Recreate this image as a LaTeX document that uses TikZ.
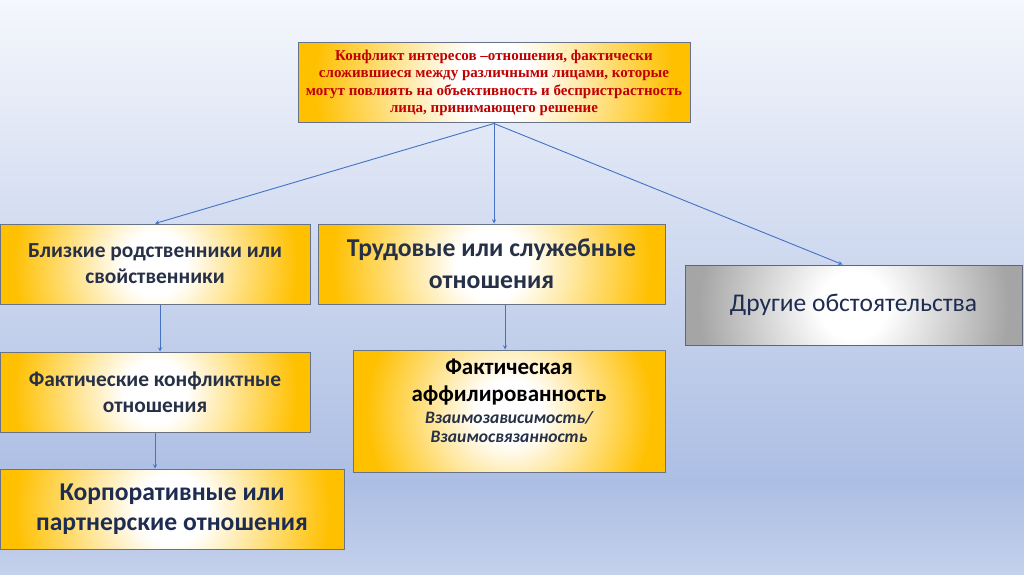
\documentclass[tikz,border=0pt]{standalone}
\usepackage{fontspec}
\setmainfont{Carlito}
\newfontfamily\timesfont{Liberation Serif}
\usepackage{tikz}
\usetikzlibrary{arrows,shapes,positioning,calc}
\usepackage{xcolor}
\definecolor{slidetop}{RGB}{245,247,252}
\definecolor{slidemid}{RGB}{172,190,228}
\definecolor{slidebot}{RGB}{196,209,236}
\definecolor{boxgold}{RGB}{255,192,0}
\definecolor{boxgray}{RGB}{165,165,165}
\definecolor{boxedge}{RGB}{105,115,135}
\definecolor{arrowblue}{RGB}{68,114,196}
\definecolor{textdark}{RGB}{38,48,70}
\definecolor{textnavy}{RGB}{30,44,82}
\definecolor{textred}{RGB}{192,0,0}
\pgfdeclareverticalshading{slidebg}{100bp}{color(0bp)=(slidebot); color(25bp)=(slidebot); color(33bp)=(slidemid); color(75bp)=(slidetop); color(100bp)=(slidetop)}
\pgfdeclareradialshading{goldglow}{\pgfpoint{0bp}{0bp}}{color(0bp)=(white); color(5bp)=(white); color(23bp)=(boxgold); color(50bp)=(boxgold)}
\pgfdeclareradialshading{grayglow}{\pgfpoint{0bp}{0bp}}{color(0bp)=(white); color(5bp)=(white); color(23bp)=(boxgray); color(50bp)=(boxgray)}
\tikzstyle{goldbox} = [rectangle, minimum height=80pt, text centered, align=center, draw=boxedge, line width=1pt, fill=boxgold,
  path picture={\shade[shading=goldglow] let \p1=(path picture bounding box.center), \p2=(path picture bounding box.east) in (\p1) circle ({\x2-\x1});}]
\tikzstyle{graybox} = [rectangle, minimum height=80pt, text centered, align=center, draw=boxedge!90!black, line width=1pt, fill=boxgray,
  path picture={\shade[shading=grayglow] let \p1=(path picture bounding box.center), \p2=(path picture bounding box.east) in (\p1) circle ({\x2-\x1});}]
\tikzstyle{arrow} = [line width=0.9pt,->,>=stealth,color=arrowblue]
\newcommand{\subline}{\itshape\color{textdark}\fontsize{17.5}{20}\selectfont}

\begin{document}
\begin{tikzpicture}[x=1pt, y=1pt]
% Background
\shade[shading=slidebg] (0,0) rectangle (1024,574);
\useasboundingbox (0,0) rectangle (1024,574);

% Definition
\node (conflict) [goldbox, minimum width=392pt, text=textred, font=\timesfont\bfseries\fontsize{15}{17.5}\selectfont] at (494,491)
  {Конфликт интересов –отношения, фактически\\сложившиеся между различными лицами, которые\\могут повлиять на объективность и беспристрастность\\лица, принимающего решение};

% Kinds of relations
\node (relatives) [goldbox, minimum width=310pt, text=textdark, font=\bfseries\fontsize{21.4}{26}\selectfont] at (155,310) {Близкие родственники или\\свойственники};
\node (labour) [goldbox, minimum width=347pt, text=textdark, font=\bfseries\fontsize{25.7}{32}\selectfont] at (491.5,310) {Трудовые или служебные\\отношения};
\node (other) [graybox, minimum width=337pt, text=textnavy, font=\fontsize{25.5}{28}\selectfont] at (853.5,269) {Другие обстоятельства};

% Second level
\node (hostile) [goldbox, minimum width=310pt, text=textdark, font=\bfseries\fontsize{21.4}{26}\selectfont] at (155,182) {Фактические конфликтные\\отношения};
\node (corporate) [goldbox, minimum width=344pt, text=textnavy, font=\bfseries\fontsize{25.6}{30}\selectfont] at (172,65) {Корпоративные или\\партнерские отношения};
\node (affiliation) [goldbox, minimum width=312pt, minimum height=122pt, inner ysep=1pt, font=\bfseries\fontsize{23}{27}\selectfont] at (509,163)
  {Фактическая\\аффилированность\\[-5pt]\subline Взаимозависимость/\\[-8pt]\subline Взаимосвязанность\rule[-20pt]{0pt}{0pt}};

% Arrows
\draw[arrow] (conflict.south) -- (relatives.north);
\draw[arrow] (conflict.south) -- (conflict.south |- labour.north);
\draw[arrow] (conflict.south) -- ([xshift=-11pt]other.north);
\draw[arrow] ([xshift=5pt]relatives.south) -- ([xshift=5pt]hostile.north);
\draw[arrow] (hostile.south) -- (hostile.south |- corporate.north);
\draw[arrow] ([xshift=-4pt]affiliation.north |- labour.south) -- ([xshift=-4pt]affiliation.north);
\end{tikzpicture}
\end{document}
